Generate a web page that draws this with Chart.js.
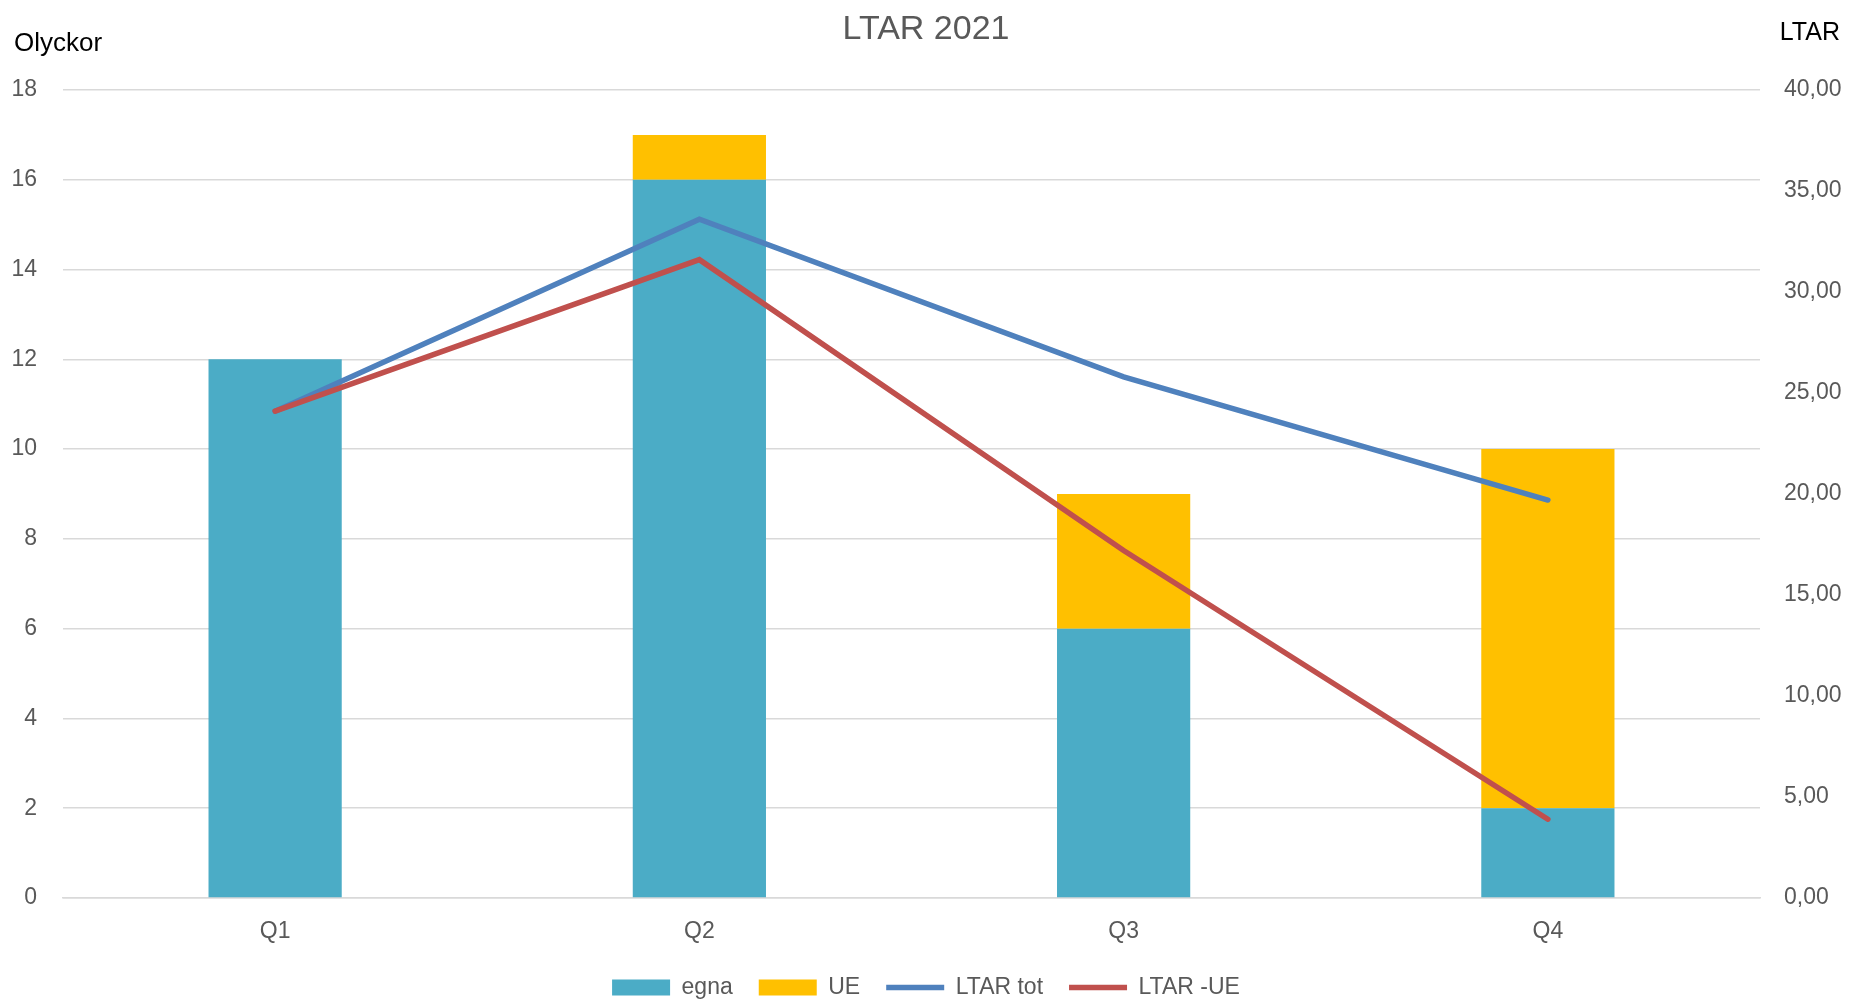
<!DOCTYPE html>
<html><head><meta charset="utf-8">
<script src="https://cdn.jsdelivr.net/npm/chart.js@4"></script>
<style>html,body{margin:0;padding:0;background:#fff}#wrap{width:1852px;height:1000px;position:relative}</style>
</head><body><div id="wrap"><canvas id="c" width="1852" height="1000"></canvas></div>
<script>
const titleText = 'LTAR 2021';
const leftAxisTitle = 'Olyckor';
const rightAxisTitle = 'LTAR';
const categories = ['Q1', 'Q2', 'Q3', 'Q4'];
const egna = [12, 16, 6, 2];
const ue = [0, 1, 3, 8];
const ltarTot = [24.1, 33.6, 25.8, 19.7];
const ltarMinusUE = [24.1, 31.6, 17.2, 3.9];
const seriesNames = ['egna', 'UE', 'LTAR tot', 'LTAR -UE'];

const FONT = '"Liberation Sans", Arial, sans-serif';
const GRAY = '#595959';

const textPlugin = {
  id: 'texts',
  afterDraw(chart) {
    const ctx = chart.ctx;
    ctx.save();
    ctx.textBaseline = 'middle';
    ctx.fillStyle = GRAY;
    ctx.font = '34px ' + FONT;
    ctx.textAlign = 'center';
    ctx.fillText(titleText, chart.width / 2, 30);
    ctx.fillStyle = '#000';
    ctx.font = '26px ' + FONT;
    ctx.textAlign = 'left';
    ctx.fillText(leftAxisTitle, 14, 44);
    ctx.font = '25px ' + FONT;
    ctx.textAlign = 'right';
    ctx.fillText(rightAxisTitle, 1840, 33);
    ctx.restore();
  }
};

new Chart(document.getElementById('c'), {
  type: 'bar',
  data: {
    labels: categories,
    datasets: [
      { label: seriesNames[0], data: egna, backgroundColor: '#4BACC6', borderWidth: 0, yAxisID: 'y', stack: 's', pointStyle: 'rect', order: 1 },
      { label: seriesNames[1], data: ue, backgroundColor: '#FFC000', borderWidth: 0, yAxisID: 'y', stack: 's', pointStyle: 'rect', order: 1 },
      { type: 'line', label: seriesNames[2], data: ltarTot, borderColor: '#4F81BD', backgroundColor: '#4F81BD', borderWidth: 5.5, borderCapStyle: 'round', pointRadius: 0, pointHoverRadius: 0, yAxisID: 'y1', pointStyle: 'line', tension: 0, order: -1 },
      { type: 'line', label: seriesNames[3], data: ltarMinusUE, borderColor: '#C0504D', backgroundColor: '#C0504D', borderWidth: 5.5, borderCapStyle: 'round', pointRadius: 0, pointHoverRadius: 0, yAxisID: 'y1', pointStyle: 'line', tension: 0, order: -2 }
    ]
  },
  options: {
    responsive: false,
    animation: false,
    devicePixelRatio: 1,
    layout: { padding: { top: 90, left: 0, right: 0, bottom: -9 } },
    datasets: { bar: { categoryPercentage: 0.314, barPercentage: 1 } },
    plugins: {
      title: { display: false },
      tooltip: { enabled: false },
      legend: {
        position: 'bottom',
        labels: {
          usePointStyle: true,
          pointStyleWidth: 58,
          boxHeight: 16,
          padding: 26,
          color: GRAY,
          font: { family: FONT, size: 23 },
          sort: (a, b) => a.datasetIndex - b.datasetIndex
        }
      }
    },
    scales: {
      x: {
        stacked: true,
        grid: { display: false, drawTicks: false },
        border: { display: true, color: '#D9D9D9', width: 1.5 },
        ticks: { color: GRAY, font: { family: FONT, size: 23 }, padding: 20 },
        afterFit(s) { s.height = 52; }
      },
      y: {
        stacked: true,
        position: 'left',
        min: 0, max: 18,
        ticks: { stepSize: 2, color: GRAY, font: { family: FONT, size: 23 }, padding: 26 },
        grid: { color: '#D9D9D9', lineWidth: 1.5, drawTicks: false },
        border: { display: false },
        afterFit(s) { s.width = 63; }
      },
      y1: {
        stacked: false,
        position: 'right',
        min: 0, max: 40,
        ticks: { stepSize: 5, color: GRAY, font: { family: FONT, size: 23 }, padding: 24,
          callback: v => v.toFixed(2).replace('.', ',') },
        grid: { display: false, drawTicks: false },
        border: { display: false },
        afterFit(s) { s.width = 92; }
      }
    }
  },
  plugins: [textPlugin]
});
</script></body></html>
